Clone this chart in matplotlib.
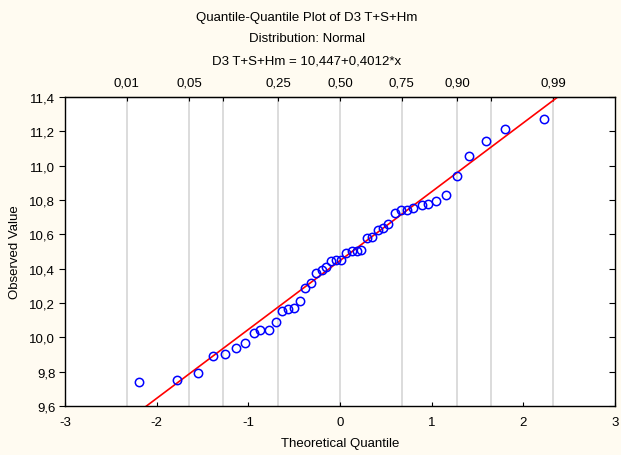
import matplotlib
matplotlib.use("Agg")
from matplotlib import pyplot as plt
from matplotlib.ticker import FuncFormatter

theo_q = [-2.19, -1.78, -1.55, -1.39, -1.25, -1.13, -1.04, -0.94, -0.87, -0.78,
          -0.70, -0.63, -0.57, -0.50, -0.44, -0.38, -0.32, -0.26, -0.20, -0.15,
          -0.10, -0.04, 0.01, 0.07, 0.13, 0.18, 0.23, 0.29, 0.35, 0.41,
          0.47, 0.52, 0.60, 0.66, 0.73, 0.80, 0.89, 0.96, 1.05, 1.16,
          1.28, 1.41, 1.59, 1.80, 2.22]
observed = [9.737, 9.754, 9.791, 9.894, 9.901, 9.940, 9.965, 10.026, 10.040, 10.040,
            10.088, 10.156, 10.163, 10.172, 10.212, 10.289, 10.318, 10.374, 10.395, 10.412,
            10.443, 10.453, 10.451, 10.490, 10.500, 10.500, 10.507, 10.577, 10.583, 10.623,
            10.639, 10.660, 10.724, 10.739, 10.739, 10.755, 10.768, 10.778, 10.794, 10.831,
            10.939, 11.057, 11.141, 11.212, 11.274]

intercept = 10.447
slope = 0.4012

# probability scale on top: normal quantiles of these probabilities
prob_z = [-2.326, -1.645, -1.2816, -0.6745, 0.0, 0.6745, 1.2816, 1.645, 2.326]
prob_labels = ["0,01", "0,05", "", "0,25", "0,50", "0,75", "0,90", "", "0,99"]

plt.rcParams['font.family'] = ['Liberation Sans', 'DejaVu Sans']
fs = 9.5

bg = '#FFFBF1'
fig = plt.figure(figsize=(6.21, 4.56), dpi=100, facecolor=bg)
ax = fig.add_axes([65 / 621, 49 / 456, 550 / 621, 309 / 456])
ax.set_facecolor('white')

for z in prob_z:
    ax.axvline(z, color='#D9D9D9', lw=1.3, zorder=0)

xs = [-3, 3]
ax.plot(xs, [intercept + slope * v for v in xs], color='#FF0000', lw=1.2, zorder=2)
ax.plot(theo_q, observed, 'o', mfc='none', mec='#0000FF', ms=6, mew=1.1, zorder=3)

ax.set_xlim(-3, 3)
ax.set_ylim(9.6, 11.4)
ax.set_xticks(range(-3, 4))
ax.set_yticks([9.6 + 0.2 * i for i in range(10)])
ax.yaxis.set_major_formatter(FuncFormatter(lambda v, p: f"{v:.1f}".replace('.', ',')))
ax.xaxis.set_major_formatter(FuncFormatter(lambda v, p: f"{v:.0f}"))

ax.tick_params(axis='x', direction='in', length=3, pad=7, labelsize=fs)
ax.tick_params(axis='y', direction='out', length=4, pad=3, labelsize=fs)
ax.tick_params(axis='y', which='both', right=True, labelright=False)
for t in ax.yaxis.get_ticklines()[1::2]:
    t.set_marker(matplotlib.lines.TICKLEFT)

top = ax.secondary_xaxis('top')
top.set_xticks(prob_z)
top.set_xticklabels(prob_labels)
top.tick_params(direction='in', length=3, pad=6, labelsize=fs)

for s in ax.spines.values():
    s.set_linewidth(1.0)

ax.set_xlabel("Theoretical Quantile", fontsize=fs, labelpad=7)
ax.set_ylabel("Observed Value", fontsize=fs, labelpad=6)

tx = 307 / 621
fig.text(tx, 1 - 18 / 456, "Quantile-Quantile Plot of D3 T+S+Hm", ha='center', va='center', fontsize=fs)
fig.text(tx, 1 - 39 / 456, "Distribution: Normal", ha='center', va='center', fontsize=fs)
fig.text(tx, 1 - 61 / 456, "D3 T+S+Hm = 10,447+0,4012*x", ha='center', va='center', fontsize=fs)

fig.savefig("out.png", dpi=100, facecolor=bg)
